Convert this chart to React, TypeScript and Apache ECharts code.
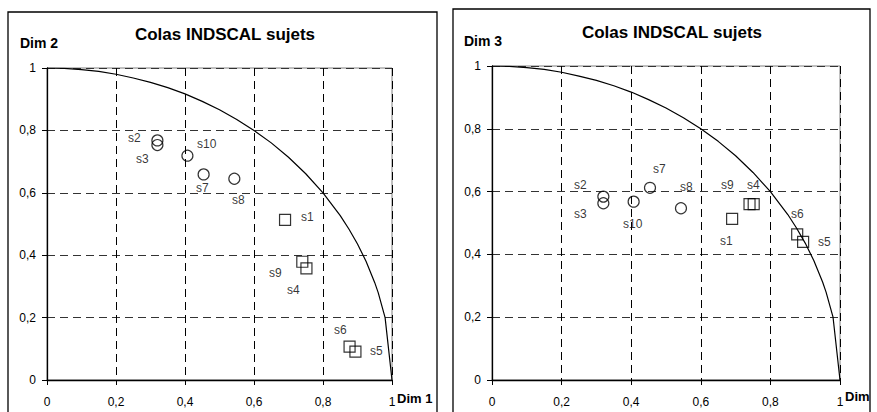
import React, { useEffect, useRef } from "react";
import * as echarts from "echarts";

// ---- data ----
const circleNames = ["s2", "s3", "s10", "s7", "s8"];
const squareNames = ["s1", "s9", "s4", "s6", "s5"];
const dim1Circles = [0.32, 0.32, 0.407, 0.454, 0.543];
const dim2Circles = [0.768, 0.753, 0.719, 0.659, 0.645];
const dim3Circles = [0.584, 0.563, 0.568, 0.612, 0.547];
const dim1Squares = [0.69, 0.74, 0.752, 0.877, 0.894];
const dim2Squares = [0.513, 0.379, 0.358, 0.107, 0.091];
const dim3Squares = [0.513, 0.56, 0.56, 0.464, 0.44];
// reference curve (quarter unit circle)
const curveX = [0, 0.05, 0.1, 0.15, 0.2, 0.25, 0.3, 0.35, 0.4, 0.45, 0.5, 0.55, 0.6, 0.65, 0.7, 0.75, 0.8, 0.85, 0.875, 0.9, 0.925, 0.95, 0.96, 0.98, 1];
const curveY = [1, 0.999, 0.995, 0.989, 0.98, 0.968, 0.954, 0.937, 0.917, 0.893, 0.866, 0.835, 0.8, 0.76, 0.714, 0.661, 0.6, 0.527, 0.484, 0.436, 0.38, 0.312, 0.28, 0.2, 0];
const tickValues = [0, 0.2, 0.4, 0.6, 0.8, 1];

// ---- layout (label offsets from marker centre, px) ----
const leftCircleOffsets = [[-23, -2], [-15, 14], [19, -12], [-1, 14], [4, 21]];
const leftSquareOffsets = [[22, -3], [-27, 11], [-13, 22], [-9, -17], [21, -1]];
const rightCircleOffsets = [[-23, -12], [-23, 11], [-1, 22], [9, -19], [5, -21]];
const rightSquareOffsets = [[-6, 22], [-22, -19], [0, -19], [0, -20], [21, 0]];
const SYMBOL = 11;

const FONT = 'Arial, "Liberation Sans", sans-serif';

function fmt(v: number) {
  return String(v).replace(".", ",");
}

const labelStyle = {
  show: true,
  position: "top",
  formatter: "{b}",
  color: "#000",
  fontSize: 12,
  fontFamily: FONT,
  textBorderWidth: 0,
};

function points(xs: number[], ys: number[], names: string[]) {
  return xs.map((x, i) => ({ name: names[i], value: [x, ys[i]] }));
}

function snapLayout(offs: number[][]) {
  return (p: any) => {
    const o = offs[p.dataIndex] || [0, 0];
    const cx = p.rect.x + p.rect.width / 2 + o[0];
    const cy = p.rect.y + p.rect.height / 2 + o[1];
    return {
      x: Math.round(cx - p.labelRect.width / 2),
      y: Math.round(cy - p.labelRect.height / 2),
      align: "left",
      verticalAlign: "top",
    };
  };
}

function axis(gridIndex: number, vertical: boolean) {
  return {
    type: "value",
    gridIndex,
    min: 0,
    max: 1,
    interval: 0.2,
    axisLine: { show: true, onZero: false, lineStyle: { color: "#000", width: 1.3 } },
    axisTick: { show: true, length: 5, lineStyle: { color: "#000" } },
    axisLabel: {
      color: "#000",
      fontSize: 12,
      fontFamily: FONT,
      margin: vertical ? 11 : 16,
      formatter: (v: number) => fmt(v),
      customValues: tickValues,
    },
    splitLine: {
      show: true,
      lineStyle: { color: vertical ? "#333" : "#000", type: [8, 5], width: 1 },
    },
  };
}

function panelSeries(
  idx: number,
  cy: number[],
  sy: number[],
  cOffs: number[][],
  sOffs: number[][]
) {
  const sym = { color: "rgba(0,0,0,0)", borderColor: "#000", borderWidth: 1.2 };
  return [
    {
      type: "line",
      xAxisIndex: idx,
      yAxisIndex: idx,
      data: curveX.map((x, i) => [x, curveY[i]]),
      showSymbol: false,
      symbol: "none",
      color: "#000",
      lineStyle: { color: "#000", width: 1.2 },
      silent: true,
      z: 3,
    },
    {
      type: "scatter",
      xAxisIndex: idx,
      yAxisIndex: idx,
      symbol: "circle",
      symbolSize: SYMBOL,
      color: "#000",
      itemStyle: sym,
      label: labelStyle,
      labelLayout: snapLayout(cOffs),
      data: points(dim1Circles, cy, circleNames),
      z: 4,
    },
    {
      type: "scatter",
      xAxisIndex: idx,
      yAxisIndex: idx,
      symbol: "rect",
      symbolSize: SYMBOL,
      color: "#000",
      itemStyle: sym,
      label: labelStyle,
      labelLayout: snapLayout(sOffs),
      data: points(dim1Squares, sy, squareNames),
      z: 4,
    },
  ];
}

export default function App() {
  const ref = useRef<HTMLDivElement>(null);
  useEffect(() => {
    const chart = echarts.init(ref.current!, null, { renderer: "svg", width: 877, height: 412 });
    const text = (t: string, x: number, y: number, size: number, align = "left") => ({
      type: "text",
      x,
      y,
      style: {
        text: t,
        fill: "#000",
        font: `bold ${size}px ${FONT}`,
        textAlign: align,
        textVerticalAlign: "middle",
      },
      z: 10,
    });
    chart.setOption({
      animation: false,
      backgroundColor: "#fff",
      grid: [
        { left: 47, top: 68, width: 345, height: 312, show: true, borderColor: "#808080", borderWidth: 1 },
        { left: 492, top: 66, width: 348, height: 314, show: true, borderColor: "#808080", borderWidth: 1 },
      ],
      xAxis: [axis(0, false), axis(1, false)],
      yAxis: [axis(0, true), axis(1, true)],
      series: [
        ...panelSeries(0, dim2Circles, dim2Squares, leftCircleOffsets, leftSquareOffsets),
        ...panelSeries(1, dim3Circles, dim3Squares, rightCircleOffsets, rightSquareOffsets),
      ],
      graphic: [
        {
          type: "rect",
          shape: { x: 8, y: 12, width: 429, height: 420 },
          style: { fill: "none", stroke: "#000", lineWidth: 1.3 },
          silent: true,
        },
        {
          type: "rect",
          shape: { x: 453, y: 9, width: 417, height: 420 },
          style: { fill: "none", stroke: "#000", lineWidth: 1.3 },
          silent: true,
        },
        text("Colas INDSCAL sujets", 225, 34, 17, "center"),
        text("Colas INDSCAL sujets", 672, 32, 17, "center"),
        text("Dim 2", 20, 43, 14),
        text("Dim 3", 464, 41, 14),
        text("Dim 1", 397, 398, 13),
        text("Dim", 845, 396, 13),
      ],
    });
    return () => chart.dispose();
  }, []);
  return (
    <div
      ref={ref}
      style={{ position: "absolute", left: 0, top: 0, width: 877, height: 412, background: "#fff" }}
    />
  );
}
